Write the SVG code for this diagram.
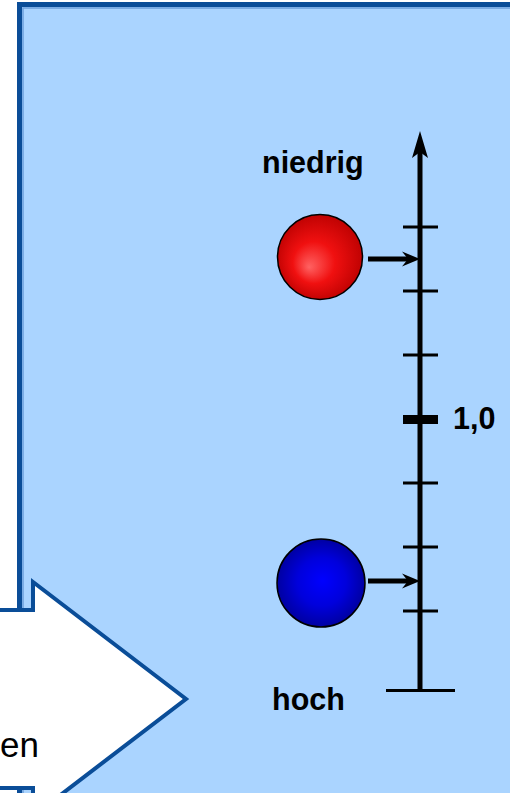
<svg xmlns="http://www.w3.org/2000/svg" width="510" height="793" viewBox="0 0 510 793">
<defs>
<style>
.lbl{font-family:"Liberation Sans",Arial,sans-serif;font-weight:bold;font-size:30.5px;fill:#000}
.tick{stroke:#000;stroke-width:3}
.shaft{stroke:#000;stroke-width:5;fill:none}
.head{fill:#000}
</style>
<radialGradient id="gRed" cx="0.5" cy="0.5" r="0.55" fx="0.37" fy="0.62">
<stop offset="0" stop-color="#ff6262"/>
<stop offset="0.45" stop-color="#f01010"/>
<stop offset="1" stop-color="#b80000"/>
</radialGradient>
<radialGradient id="gBlue" cx="0.5" cy="0.5" r="0.55" fx="0.52" fy="0.47">
<stop offset="0" stop-color="#0000ff"/>
<stop offset="0.5" stop-color="#0000dc"/>
<stop offset="1" stop-color="#000095"/>
</radialGradient>
</defs>
<rect width="510" height="793" fill="#fff"/>
<g id="panel">
<rect x="19.5" y="4.5" width="520" height="820" fill="#aad4ff" stroke="#0a4d98" stroke-width="5"/>
<rect x="23" y="8" width="520" height="820" fill="none" stroke="#6c9fdc" stroke-width="1.5"/>
</g>
<g id="bigArrow">
<path d="M-10,610 L33,610 L33,582 L186,699 L33,816 L33,788 L-10,788 Z" fill="#fff" stroke="#0a4d98" stroke-width="4" stroke-linejoin="miter"/>
<text x="39" y="757" text-anchor="end" style="font-family:'Liberation Sans',Arial,sans-serif;font-size:35px;fill:#000">en</text>
</g>
<g id="axis">
<line class="shaft" x1="420" y1="691" x2="420" y2="150"/>
<path class="head" d="M420,131 L428,158 L420,152 L412,158 Z"/>
<line class="tick" x1="403" y1="227" x2="438" y2="227"/>
<line class="tick" x1="403" y1="291" x2="438" y2="291"/>
<line class="tick" x1="403" y1="355" x2="438" y2="355"/>
<line x1="403" y1="419.5" x2="438" y2="419.5" stroke="#000" stroke-width="9"/>
<line class="tick" x1="403" y1="483" x2="438" y2="483"/>
<line class="tick" x1="403" y1="547" x2="438" y2="547"/>
<line class="tick" x1="403" y1="611" x2="438" y2="611"/>
<line class="tick" x1="386" y1="690.5" x2="455" y2="690.5"/>
<text class="lbl" x="262" y="173">niedrig</text>
<text class="lbl" x="453" y="429">1,0</text>
<text class="lbl" x="272" y="710">hoch</text>
</g>
<g id="redBall">
<circle cx="320" cy="257" r="42.5" fill="url(#gRed)" stroke="#000" stroke-width="1.5"/>
</g>
<g id="blueBall">
<circle cx="321" cy="583" r="44" fill="url(#gBlue)" stroke="#000" stroke-width="1.5"/>
</g>
<g id="connectors">
<line class="shaft" x1="368" y1="259" x2="410" y2="259"/>
<path class="head" d="M420,259 L402,251.5 L408,259 L402,266.5 Z"/>
<line class="shaft" x1="368" y1="581" x2="410" y2="581"/>
<path class="head" d="M420,581 L402,573.5 L408,581 L402,588.5 Z"/>
</g>
</svg>
